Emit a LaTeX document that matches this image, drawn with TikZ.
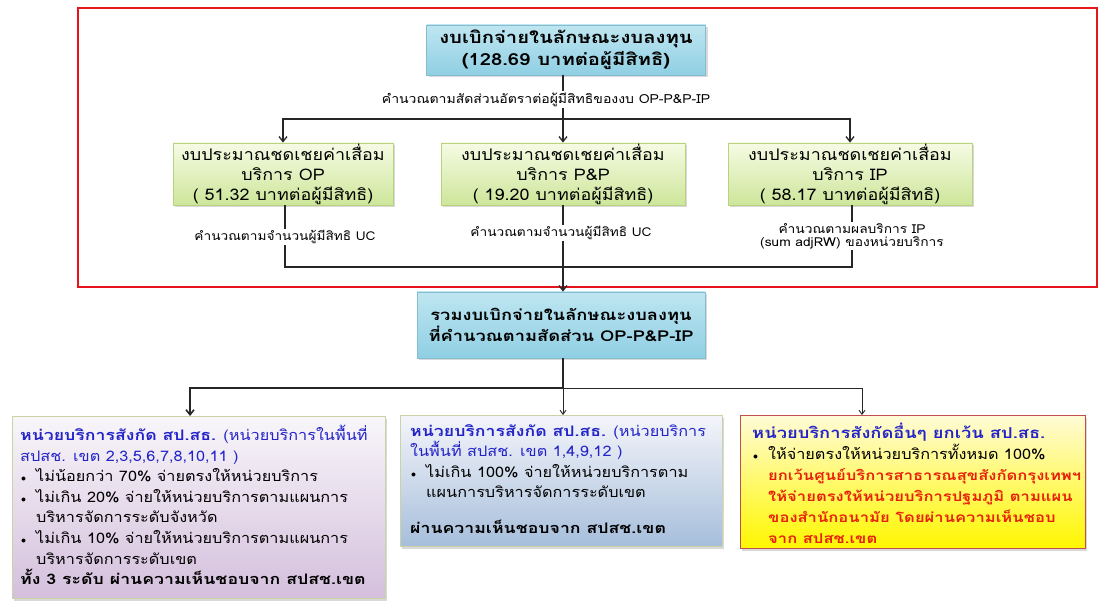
\documentclass[tikz,border=0pt]{standalone}
\usepackage{fontspec}
\setmainfont[Script=Thai,UprightFeatures={FakeStretch=1.12},BoldFeatures={FakeStretch=1.22}]{Loma}
\usetikzlibrary{arrows.meta,shadows}
\definecolor{redframe}{HTML}{E8141B}
\definecolor{bluetop}{HTML}{BFE6F1}
\definecolor{bluebot}{HTML}{8FCFE3}
\definecolor{blueedge}{HTML}{86BCD0}
\definecolor{greentop}{HTML}{F6FBE4}
\definecolor{greenbot}{HTML}{CDE69A}
\definecolor{greenedge}{HTML}{B9D27F}
\definecolor{lavtop}{HTML}{F8F6FA}
\definecolor{lavmid}{HTML}{EEE7F2}
\definecolor{lavbot}{HTML}{D4BFDC}
\definecolor{lavedge}{HTML}{C9D3A6}
\definecolor{midtop}{HTML}{F4F5FA}
\definecolor{midmid}{HTML}{D9E1EE}
\definecolor{midbot}{HTML}{A6BEDB}
\definecolor{yeltop}{HTML}{FFFBD6}
\definecolor{yelbot}{HTML}{FFF700}
\definecolor{yeledge}{HTML}{C0504D}
\definecolor{headblue}{HTML}{2323C8}
\definecolor{redtext}{HTML}{E8200A}
\definecolor{conn}{HTML}{262626}
\tikzset{
  shad/.style={drop shadow={shadow xshift=2pt,shadow yshift=-2.5pt,opacity=0.3}},
  bluebox/.style={shad,draw=blueedge,line width=0.8pt,top color=bluetop,bottom color=bluebot,align=center,inner sep=0pt},
  greenbox/.style={shad,draw=greenedge,line width=0.8pt,top color=greentop,bottom color=greenbot,align=center,inner sep=0pt,minimum height=62pt,font={\fontsize{16}{20}\selectfont}},
  lbl/.style={align=center,inner sep=1pt,font={\fontsize{12.2}{13}\selectfont}},
  conline/.style={draw=conn,line width=1.3pt},
  arr/.style={conline,-{Straight Barb[length=5pt,width=8pt]}},
  txt/.style={anchor=north west,align=left,inner sep=0pt,font={\fontsize{14.5}{20.6}\selectfont}},
}
\newcommand{\bul}{\makebox[16pt][l]{\hspace*{1pt}$\scriptstyle\bullet$}}
\newcommand{\ind}{\hspace*{16pt}}
\begin{document}
\begin{tikzpicture}[x=1pt,y=-1pt]
\useasboundingbox (0,0) rectangle (1104,601);
% red frame
\draw[redframe,line width=2.6pt] (78,8) rectangle (1097,287);
% top box
\node[bluebox,minimum width=279pt,minimum height=50pt,font={\bfseries\fontsize{16.6}{22}\selectfont}] (top) at (566,50)
  {งบเบิกจ่ายในลักษณะงบลงทุน\\(128.69 บาทต่อผู้มีสิทธิ)};
\node[lbl,font={\fontsize{12.5}{13}\selectfont}] (lab1) at (546,100) {คำนวณตามสัดส่วนอัตราต่อผู้มีสิทธิของงบ OP-P\&P-IP};
% green boxes
\node[greenbox,minimum width=220pt] (op) at (283,174) {งบประมาณชดเชยค่าเสื่อม\\บริการ OP\\( 51.32 บาทต่อผู้มีสิทธิ)};
\node[greenbox,minimum width=244pt] (pp) at (563,174) {งบประมาณชดเชยค่าเสื่อม\\บริการ P\&P\\( 19.20 บาทต่อผู้มีสิทธิ)};
\node[greenbox,minimum width=244pt] (ip) at (850,174) {งบประมาณชดเชยค่าเสื่อม\\บริการ IP\\( 58.17 บาทต่อผู้มีสิทธิ)};
% labels under green boxes
\node[lbl] (opl) at (285,237) {คำนวณตามจำนวนผู้มีสิทธิ UC};
\node[lbl] (ppl) at (561,233) {คำนวณตามจำนวนผู้มีสิทธิ UC};
\node[lbl,font={\fontsize{12.3}{13}\selectfont}] (ipl) at (852,236) {คำนวณตามผลบริการ IP\\(sum adjRW) ของหน่วยบริการ};
% combined box
\node[bluebox,minimum width=288pt,minimum height=66pt,font={\bfseries\fontsize{15}{21}\selectfont}] (comb) at (561,325)
  {รวมงบเบิกจ่ายในลักษณะงบลงทุน\\ที่คำนวณตามสัดส่วน OP-P\&P-IP};
% bottom boxes
\node[shad,draw=lavedge,line width=0.8pt,top color=lavtop,middle color=lavmid,bottom color=lavbot,minimum width=373pt,minimum height=182pt,anchor=north west,inner sep=0pt] (lb) at (12,416) {};
\node[shad,draw=lavedge,line width=0.8pt,top color=midtop,middle color=midmid,bottom color=midbot,minimum width=322pt,minimum height=131pt,anchor=north west,inner sep=0pt] (mb) at (400,415) {};
\node[shad,draw=yeledge,line width=0.8pt,top color=yeltop,bottom color=yelbot,minimum width=345pt,minimum height=133pt,anchor=north west,inner sep=0pt] (rb) at (740,415) {};
% texts of bottom boxes
\node[txt] (lbt) at (20,425) {%
{\color{headblue}\textbf{หน่วยบริการสังกัด สป.สธ.} (หน่วยบริการในพื้นที่}\\
{\color{headblue}สปสช. เขต 2,3,5,6,7,8,10,11 )}\\
\bul ไม่น้อยกว่า 70\% จ่ายตรงให้หน่วยบริการ\\
\bul ไม่เกิน 20\% จ่ายให้หน่วยบริการตามแผนการ\\
\ind บริหารจัดการระดับจังหวัด\\
\bul ไม่เกิน 10\% จ่ายให้หน่วยบริการตามแผนการ\\
\ind บริหารจัดการระดับเขต\\
\textbf{ทั้ง 3 ระดับ ผ่านความเห็นชอบจาก สปสช.เขต}};
\node[txt] (mbt) at (410,424) {%
{\color{headblue}\textbf{หน่วยบริการสังกัด สป.สธ.} (หน่วยบริการ}\\
{\color{headblue}ในพื้นที่ สปสช. เขต 1,4,9,12 )}\\
\bul ไม่เกิน 100\% จ่ายให้หน่วยบริการตาม\\
\ind แผนการบริหารจัดการระดับเขต\\[15pt]
\textbf{ผ่านความเห็นชอบจาก สปสช.เขต}};
\node[txt,font={\fontsize{14.5}{20.9}\selectfont}] (rbt) at (752,423) {%
{\color{headblue}\textbf{\fontsize{15}{20.9}\selectfont หน่วยบริการสังกัดอื่นๆ ยกเว้น สป.สธ.}}\\
\bul ให้จ่ายตรงให้หน่วยบริการทั้งหมด 100\%\\
\ind{\color{redtext}\textbf{\fontsize{13.6}{20.9}\selectfont ยกเว้นศูนย์บริการสาธารณสุขสังกัดกรุงเทพฯ}}\\
\ind{\color{redtext}\textbf{\fontsize{13.6}{20.9}\selectfont ให้จ่ายตรงให้หน่วยบริการปฐมภูมิ ตามแผน}}\\
\ind{\color{redtext}\textbf{\fontsize{13.6}{20.9}\selectfont ของสำนักอนามัย โดยผ่านความเห็นชอบ}}\\
\ind{\color{redtext}\textbf{\fontsize{13.6}{20.9}\selectfont จาก สปสช.เขต}}};
% connectors, upper part
\coordinate (t1) at (563,75);
\coordinate (t2) at (563,91);
\draw[conline] (t1) -- (t2);
\coordinate (s1) at (563,119);
\draw[conline] (lab1.south -| s1) -- (s1);
\draw[arr] (s1) -| (op.north);
\draw[arr] (s1) -- (pp.north);
\draw[arr] (s1) -| (ip.north);
\draw[conline] (op.south -| opl.north) -- (opl.north);
\draw[conline] (pp.south) -- (ppl.north -| pp.south);
\draw[conline] (ip.south -| ipl.north) -- (ipl.north);
\coordinate (j1) at (563,267);
\draw[conline] (opl.south) |- (j1);
\draw[conline] (ipl.south) |- (j1);
\draw[arr] (ppl.south -| j1) -- (comb.north -| j1);
% connectors, lower part
\coordinate (s2) at (563,388);
\draw[conline] (comb.south -| s2) -- (s2);
\draw[conline,line width=1.6pt,-{Straight Barb[length=5pt,width=8pt]}] (s2) -| (lb.north -| 190,0);
\draw[conline,line width=0.9pt,-{Straight Barb[length=4pt,width=6pt]}] (s2) -- (mb.north -| s2);
\draw[conline,line width=0.9pt,-{Straight Barb[length=4pt,width=6pt]}] (s2) -| (rb.north -| 862,0);
\end{tikzpicture}
\end{document}
